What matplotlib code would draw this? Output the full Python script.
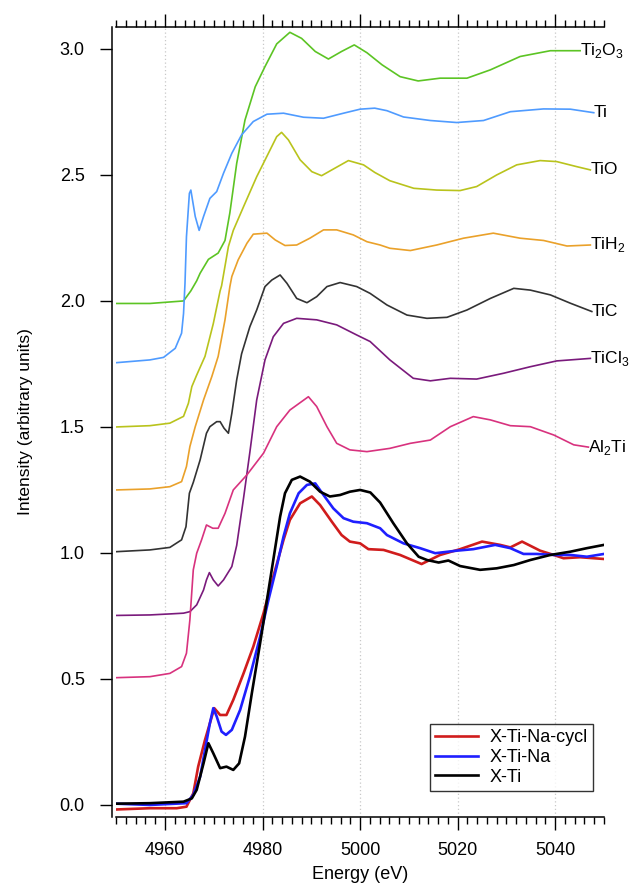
import matplotlib
matplotlib.use('Agg')
import matplotlib.pyplot as plt
from matplotlib.ticker import MultipleLocator

plt.rcParams['font.family'] = ['Liberation Sans', 'DejaVu Sans']
plt.rcParams['mathtext.fontset'] = 'custom'
plt.rcParams['mathtext.rm'] = 'Liberation Sans'

# reference spectra (offset in the original figure)
e_ti2o3 = [4950, 4956.9, 4963.8, 4965.3, 4966.5, 4967.2, 4968.9, 4970.9, 4972.3, 4973.3, 4974.7, 4976.4,
           4978.5, 4980.5, 4982.9, 4985.6, 4988.0, 4990.8, 4993.5, 4996.2, 4998.8, 5001.4, 5004.5, 5008.2,
           5011.9, 5016.4, 5021.9, 5026.7, 5032.8, 5039.0, 5045.1]
i_ti2o3 = [1.99, 1.99, 2.0, 2.04, 2.08, 2.11, 2.165, 2.19, 2.24, 2.35, 2.546, 2.718,
           2.85, 2.93, 3.02, 3.066, 3.042, 2.99, 2.96, 2.99, 3.016, 2.985, 2.937, 2.89,
           2.873, 2.884, 2.884, 2.917, 2.97, 2.993, 2.993]

e_ti = [4950, 4956.9, 4959.7, 4962.1, 4963.4, 4963.8, 4964.1, 4964.4, 4965.0, 4965.3, 4966.2, 4967.0,
        4967.9, 4969.2, 4970.6, 4972.0, 4973.7, 4975.7, 4978.1, 4980.9, 4984.3, 4988.4, 4992.5, 4996.6,
        5000.0, 5003.0, 5005.5, 5008.9, 5014.4, 5019.8, 5025.3, 5030.8, 5037.6, 5043.1, 5047.9]
i_ti = [1.755, 1.766, 1.776, 1.812, 1.872, 1.95, 2.07, 2.255, 2.427, 2.44, 2.335, 2.28,
        2.335, 2.407, 2.434, 2.507, 2.586, 2.659, 2.712, 2.741, 2.745, 2.729, 2.725, 2.745,
        2.761, 2.765, 2.755, 2.73, 2.716, 2.708, 2.716, 2.751, 2.762, 2.761, 2.747]

e_tio = [4950, 4956.9, 4961.0, 4963.8, 4964.8, 4965.5, 4966.5, 4968.2, 4969.9, 4971.3, 4971.6, 4973.0,
         4974.0, 4976.1, 4978.8, 4981.2, 4982.9, 4983.9, 4985.3, 4987.7, 4990.1, 4992.1, 4994.2, 4997.6,
         5000.7, 5003.0, 5006.1, 5011.0, 5015.7, 5020.5, 5023.9, 5028.0, 5032.1, 5036.9, 5040.3, 5044.4, 5047.2]
i_tio = [1.50, 1.505, 1.515, 1.542, 1.594, 1.66, 1.706, 1.78, 1.91, 2.04, 2.06, 2.216,
         2.28, 2.374, 2.493, 2.586, 2.652, 2.669, 2.639, 2.56, 2.513, 2.497, 2.52, 2.557,
         2.54, 2.51, 2.477, 2.447, 2.44, 2.438, 2.454, 2.5, 2.54, 2.557, 2.553, 2.533, 2.52]

e_tih2 = [4950, 4956.9, 4961.0, 4963.4, 4964.4, 4965.1, 4966.2, 4967.9, 4969.6, 4970.9, 4972.3, 4973.3,
          4973.7, 4975.0, 4976.8, 4978.1, 4980.9, 4982.6, 4984.6, 4987.0, 4989.7, 4992.5, 4995.2, 4998.6,
          5001.4, 5004.1, 5006.1, 5010.3, 5015.7, 5021.2, 5027.3, 5032.8, 5037.6, 5042.4, 5047.2]
i_tih2 = [1.25, 1.254, 1.263, 1.283, 1.343, 1.422, 1.501, 1.607, 1.70, 1.78, 1.925, 2.057,
          2.097, 2.163, 2.229, 2.265, 2.269, 2.242, 2.22, 2.222, 2.249, 2.282, 2.282, 2.262,
          2.235, 2.222, 2.209, 2.2, 2.222, 2.249, 2.269, 2.249, 2.24, 2.218, 2.222]

e_tic = [4950, 4956.9, 4961.0, 4963.4, 4964.3, 4965.0, 4965.8, 4967.2, 4968.5, 4969.2, 4970.6, 4971.3,
         4972.1, 4973.0, 4973.7, 4974.7, 4975.7, 4977.4, 4978.8, 4980.5, 4981.9, 4983.6, 4985.0, 4987.0,
         4989.1, 4991.1, 4993.2, 4995.9, 4999.3, 5002.05, 5005.5, 5009.6, 5013.7, 5017.8, 5021.9, 5026.7,
         5031.5, 5034.9, 5039.0, 5043.1, 5047.5]
i_tic = [1.005, 1.012, 1.022, 1.052, 1.104, 1.237, 1.28, 1.369, 1.475, 1.501, 1.521, 1.521,
         1.495, 1.475, 1.554, 1.687, 1.79, 1.898, 1.964, 2.057, 2.083, 2.103, 2.07, 2.01,
         1.993, 2.017, 2.057, 2.073, 2.057, 2.03, 1.984, 1.944, 1.931, 1.935, 1.964, 2.01,
         2.05, 2.043, 2.024, 1.991, 1.958]

e_ticl3 = [4950, 4956.9, 4961.0, 4963.8, 4965.1, 4966.5, 4967.9, 4968.5, 4969.1, 4969.9, 4970.9, 4972.0,
           4973.7, 4974.7, 4976.1, 4977.4, 4978.8, 4980.5, 4982.2, 4984.3, 4987.0, 4991.1, 4995.2, 4999.3,
           5002.05, 5006.1, 5010.9, 5014.4, 5018.5, 5023.9, 5029.4, 5034.9, 5040.3, 5047.2]
i_ticl3 = [0.752, 0.754, 0.758, 0.761, 0.767, 0.794, 0.853, 0.893, 0.922, 0.893, 0.869, 0.893,
           0.946, 1.03, 1.217, 1.40, 1.607, 1.766, 1.858, 1.911, 1.931, 1.925, 1.905, 1.865,
           1.839, 1.766, 1.693, 1.683, 1.693, 1.69, 1.713, 1.739, 1.762, 1.772]

e_al2ti = [4950, 4956.9, 4961.0, 4963.4, 4964.4, 4965.1, 4965.8, 4966.5, 4967.5, 4968.5, 4969.8, 4970.9,
           4972.3, 4974.0, 4976.8, 4980.2, 4982.9, 4985.6, 4989.4, 4991.1, 4993.2, 4995.2, 4997.9, 5001.4,
           5006.1, 5010.3, 5014.4, 5018.5, 5023.2, 5026.7, 5030.8, 5034.9, 5039.7, 5043.8, 5046.8]
i_al2ti = [0.505, 0.509, 0.522, 0.549, 0.602, 0.734, 0.933, 0.999, 1.052, 1.111, 1.098, 1.098,
           1.157, 1.25, 1.31, 1.396, 1.501, 1.567, 1.62, 1.581, 1.501, 1.435, 1.409, 1.402,
           1.415, 1.435, 1.448, 1.501, 1.541, 1.528, 1.505, 1.501, 1.468, 1.429, 1.42]

# samples
e_cycl = [4950, 4956.9, 4962.4, 4964.4, 4965.8, 4966.8, 4968.2, 4969.2, 4970.1, 4971.3, 4972.6, 4974.0,
          4976.1, 4978.1, 4980.2, 4982.2, 4984.3, 4985.6, 4987.7, 4990.1, 4991.8, 4994.2, 4996.2, 4997.9,
          5000.0, 5001.7, 5004.8, 5008.2, 5012.6, 5016.4, 5020.5, 5025.0, 5028.7, 5030.8, 5033.2, 5036.9,
          5039.7, 5041.7, 5045.1, 5050]
i_cycl = [-0.018, -0.013, -0.013, -0.007, 0.046, 0.152, 0.258, 0.324, 0.384, 0.357, 0.357, 0.417,
          0.522, 0.628, 0.761, 0.906, 1.052, 1.131, 1.197, 1.224, 1.19, 1.124, 1.071, 1.045,
          1.038, 1.015, 1.012, 0.992, 0.956, 0.992, 1.015, 1.045, 1.032, 1.022, 1.045, 1.009,
          0.992, 0.979, 0.983, 0.976]

e_na = [4950, 4956.9, 4964.4, 4965.8, 4967.2, 4968.2, 4969.2, 4969.9, 4970.6, 4971.6, 4972.5, 4973.7,
        4975.4, 4977.4, 4979.5, 4981.2, 4982.9, 4984.3, 4985.6, 4987.4, 4989.1, 4990.8, 4992.5, 4994.5,
        4996.6, 4998.6, 5001.4, 5004.1, 5005.5, 5008.9, 5012.3, 5015.4, 5019.8, 5023.2, 5027.7, 5030.8,
        5033.5, 5036.2, 5039.7, 5043.1, 5046.5, 5050]
i_na = [0.005, 0.0, 0.007, 0.04, 0.112, 0.218, 0.324, 0.384, 0.351, 0.291, 0.278, 0.298,
        0.377, 0.509, 0.668, 0.813, 0.946, 1.065, 1.157, 1.237, 1.27, 1.276, 1.23, 1.177,
        1.138, 1.124, 1.118, 1.098, 1.071, 1.038, 1.019, 0.999, 1.009, 1.015, 1.032, 1.019,
        0.996, 0.996, 0.992, 0.992, 0.985, 0.996]

e_xti = [4950, 4956.9, 4963.8, 4965.5, 4966.5, 4967.9, 4968.9, 4969.9, 4971.3, 4972.6, 4974.0, 4975.2,
         4976.4, 4977.8, 4979.5, 4980.9, 4982.2, 4983.6, 4984.6, 4986.0, 4987.7, 4989.7, 4991.8, 4993.8,
         4995.9, 4997.9, 5000.0, 5002.1, 5004.1, 5006.8, 5009.6, 5012.0, 5013.7, 5016.1, 5018.1, 5020.5,
         5024.6, 5028.0, 5031.5, 5034.9, 5039.0, 5043.1, 5046.5, 5050]
i_xti = [0.005, 0.007, 0.013, 0.026, 0.06, 0.165, 0.245, 0.205, 0.146, 0.152, 0.139, 0.165,
         0.271, 0.443, 0.642, 0.813, 0.972, 1.144, 1.237, 1.29, 1.303, 1.283, 1.243, 1.224,
         1.23, 1.243, 1.25, 1.24, 1.2, 1.118, 1.038, 0.985, 0.972, 0.962, 0.97, 0.948,
         0.933, 0.939, 0.952, 0.972, 0.992, 1.005, 1.019, 1.032]

refs = [
    (e_ti2o3, i_ti2o3, '#5cc424', r'Ti$_2$O$_3$'),
    (e_ti, i_ti, '#4f9bff', 'Ti'),
    (e_tio, i_tio, '#b9c31c', 'TiO'),
    (e_tih2, i_tih2, '#eaa12a', r'TiH$_2$'),
    (e_tic, i_tic, '#333333', 'TiC'),
    (e_ticl3, i_ticl3, '#7a1a7c', r'TiCl$_3$'),
    (e_al2ti, i_al2ti, '#d8327e', r'Al$_2$Ti'),
]
samples = [
    (e_cycl, i_cycl, '#d01c1c', 'X-Ti-Na-cycl'),
    (e_na, i_na, '#1f1fff', 'X-Ti-Na'),
    (e_xti, i_xti, '#000000', 'X-Ti'),
]

fig = plt.figure(figsize=(6.33, 8.83), dpi=100)
ax = fig.add_axes([0.1836, 0.0747, 0.7706, 0.8947])

for x in [4960, 4980, 5000, 5020, 5040]:
    ax.axvline(x, color='#c8c8c8', lw=0.9, ls=(0, (1, 2)), zorder=0)

for e, i, c, lab in refs:
    ax.plot(e, i, color=c, lw=1.2)
    ax.text(e[-1], i[-1], lab, color='black', fontsize=12.5, ha='left', va='center', clip_on=False)

for e, i, c, lab in samples:
    ax.plot(e, i, color=c, lw=1.9, label=lab)

ax.set_xlim(4950, 5050)
ax.set_ylim(-0.048, 3.087)
ax.xaxis.set_major_locator(MultipleLocator(20))
ax.xaxis.set_minor_locator(MultipleLocator(2))
ax.yaxis.set_major_locator(MultipleLocator(0.5))
ax.yaxis.set_major_formatter(matplotlib.ticker.FormatStrFormatter('%.1f'))

ax.spines['right'].set_visible(False)
ax.spines['left'].set_position(('outward', 3))
for s in ['left', 'top', 'bottom']:
    ax.spines[s].set_linewidth(1.1)

ax.tick_params(axis='x', which='both', direction='out', top=True, bottom=True, width=1)
ax.tick_params(axis='x', which='major', length=9.5, labelsize=13, pad=8.5)
ax.tick_params(axis='x', which='minor', length=5.2)
ax.tick_params(axis='y', which='major', direction='out', length=8.6, width=1, labelsize=13, pad=11)

ax.set_xlabel('Energy (eV)', fontsize=13, labelpad=5)
ax.set_ylabel('Intensity (arbitrary units)', fontsize=12.5, labelpad=19)

leg = ax.legend(loc='lower right', bbox_to_anchor=(0.977, 0.033), borderaxespad=0, fontsize=13,
                frameon=True, fancybox=False, edgecolor='black', handlelength=2.4,
                labelspacing=0.15, borderpad=0.3, handletextpad=0.6)
leg.get_frame().set_linewidth(1.0)

fig.savefig('out.png', dpi=100)
